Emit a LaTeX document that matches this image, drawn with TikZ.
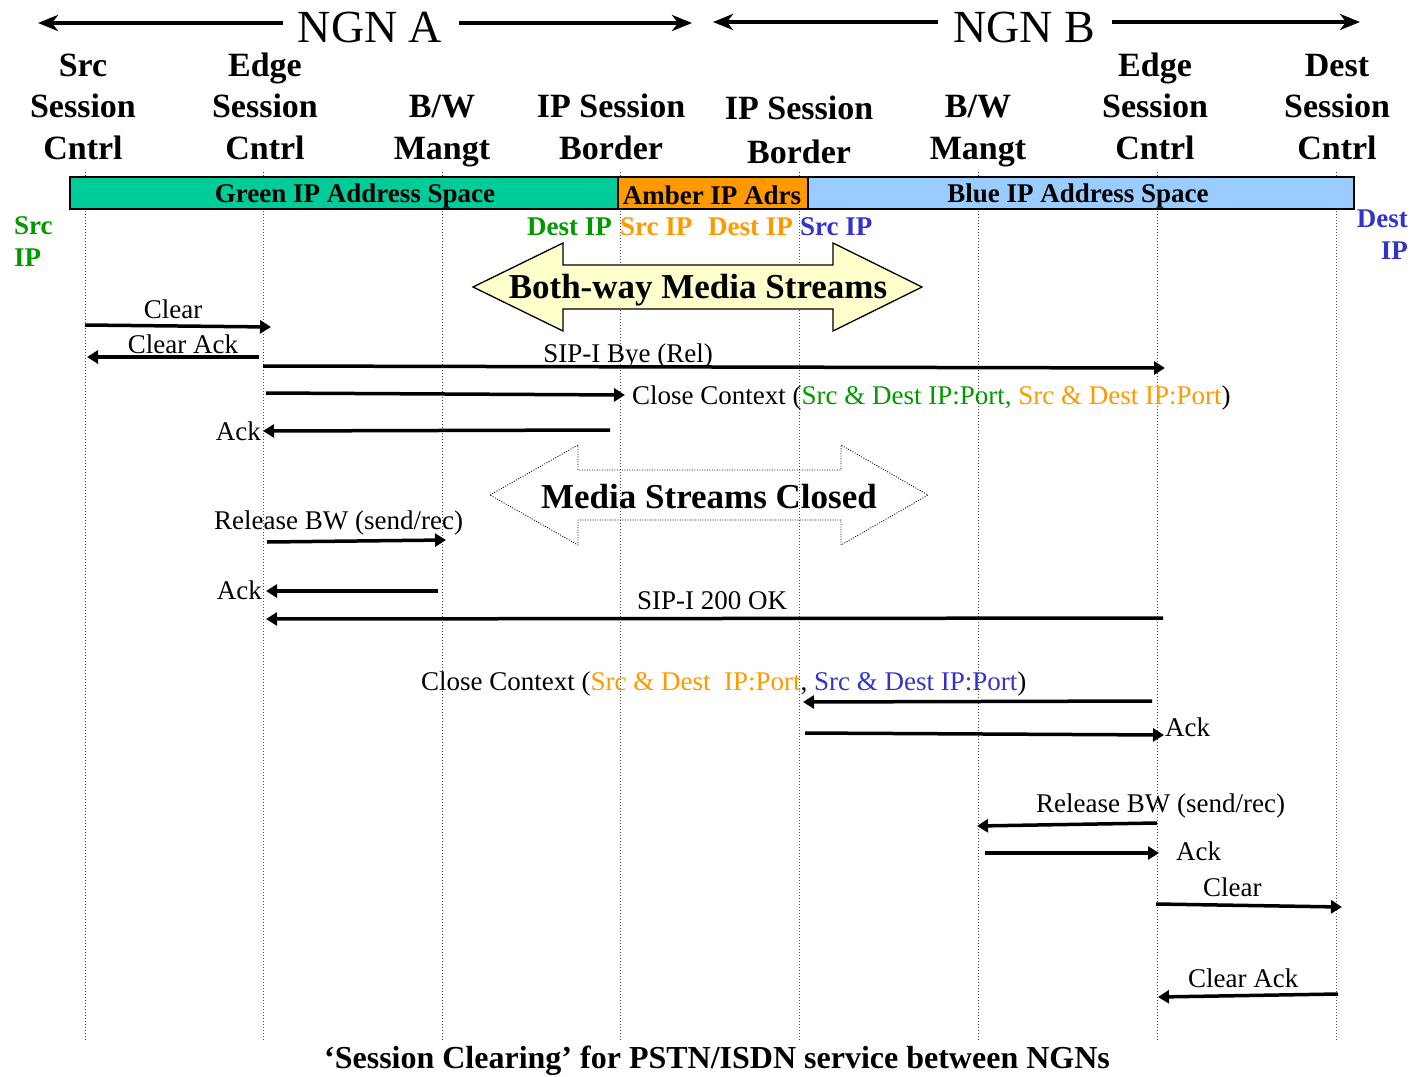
\documentclass[tikz,border=0pt]{standalone}
\usepackage{fontspec}
\setmainfont{Liberation Serif}
\usetikzlibrary{arrows.meta}

\definecolor{greenfill}{HTML}{00CC99}
\definecolor{amberfill}{HTML}{FF9900}
\definecolor{bluefill}{HTML}{99CCFF}
\definecolor{greentxt}{HTML}{009900}
\definecolor{ambertxt}{HTML}{FF9900}
\definecolor{bluetxt}{HTML}{3333CC}
\definecolor{streamfill}{HTML}{FFFFCC}

\tikzset{
  hdr/.style={font=\fontsize{34}{41.5}\selectfont\bfseries, align=center, inner sep=0pt, anchor=base},
  ngn/.style={font=\fontsize{46}{50}\selectfont, inner sep=0pt, anchor=base},
  ngnarrow/.style={line width=4pt, -{Stealth[length=20pt,width=16pt,inset=6pt]}},
  band/.style={draw=black, line width=1.3pt},
  bandlbl/.style={font=\fontsize{27}{30}\selectfont\bfseries, inner sep=0pt, anchor=base},
  iplbl/.style={font=\fontsize{27}{32}\selectfont\bfseries, inner sep=0pt, anchor=base},
  lifeline/.style={line width=0.7pt, black!70, dash pattern=on 1.2pt off 1.8pt},
  msg/.style={line width=3.5pt, -{Triangle[length=11pt,width=13pt]}},
  msglbl/.style={font=\fontsize{27}{30}\selectfont, inner sep=0pt, anchor=base},
  bigtxt/.style={font=\fontsize{35}{40}\selectfont\bfseries, inner sep=0pt},
  titletxt/.style={font=\fontsize{32}{36}\selectfont\bfseries, inner sep=0pt, anchor=base},
}

\begin{document}
\begin{tikzpicture}[x=1pt,y=-1pt]
\useasboundingbox (0,0) rectangle (1413,1076);

% lifelines
\foreach \n/\x in {srcA/85, edgeA/263, bwA/442, ipA/620, ipB/799, bwB/978, edgeB/1157, dstB/1336}{
  \coordinate (\n top) at (\x,172);
  \coordinate (\n bot) at (\x,1040);
  \draw[lifeline] (\n top) -- (\n bot);
}

% network banners
\node[ngn] (ngnA) at (370,42) {NGN A};
\coordinate (ngnAl) at (38,23);
\coordinate (ngnAr) at (692,23);
\draw[ngnarrow] (ngnA.west |- ngnAl) ++(-15,0) -- (ngnAl);
\draw[ngnarrow] (ngnA.east |- ngnAr) ++(17,0) -- (ngnAr);
\node[ngn] (ngnB) at (1024,42) {NGN B};
\coordinate (ngnBl) at (713,22);
\coordinate (ngnBr) at (1360,22);
\draw[ngnarrow] (ngnB.west |- ngnBl) ++(-15,0) -- (ngnBl);
\draw[ngnarrow] (ngnB.east |- ngnBr) ++(17,0) -- (ngnBr);

% column headers (anchored on the baseline of the last line)
\node[hdr] (hSrc) at (83,159) {Src\\Session\\Cntrl};
\node[hdr] (hEdgeA) at (265,159) {Edge\\Session\\Cntrl};
\node[hdr] (hBwA) at (442,159) {B/W\\Mangt};
\node[hdr] (hIpA) at (611,159) {IP Session\\Border};
\node[hdr, font=\fontsize{34}{44}\selectfont\bfseries] (hIpB) at (799,163) {IP Session\\Border};
\node[hdr] (hBwB) at (978,159) {B/W\\Mangt};
\node[hdr] (hEdgeB) at (1155,159) {Edge\\Session\\Cntrl};
\node[hdr] (hDst) at (1337,159) {Dest\\Session\\Cntrl};

% address space bands
\draw[band, fill=greenfill] (70,177) rectangle (618,209);
\draw[band, fill=amberfill] (618,177) rectangle (808,209);
\draw[band, fill=bluefill] (808,177) rectangle (1354,209);
\node[bandlbl] (gband) at (355,202) {Green IP Address Space};
\node[bandlbl] (aband) at (712,204) {Amber IP Adrs};
\node[bandlbl] (bband) at (1078,202) {Blue IP Address Space};

% address labels
\node[iplbl, text=greentxt, align=left, anchor=base west] (srcip) at (14,266) {Src\\IP};
\node[iplbl, text=greentxt, anchor=base east] (gdest) at (612,235) {Dest IP};
\node[iplbl, text=ambertxt, anchor=base west] (asrc) at (620,235) {Src IP};
\node[iplbl, text=ambertxt, anchor=base west] (adest) at (708,235) {Dest IP};
\node[iplbl, text=bluetxt, anchor=base west] (bsrc) at (800,235) {Src IP};
\node[iplbl, text=bluetxt, align=right, anchor=base east] (dstip) at (1408,259) {Dest\\IP};

% media stream arrows
\draw[line width=1.3pt, fill=streamfill] (473,287) -- (563,243) -- (563,265) -- (833,265) -- (833,243)
  -- (922,287) -- (833,331) -- (833,309) -- (563,309) -- (563,331) -- cycle;
\node[bigtxt] (both) at (698,290) {Both-way Media Streams};
\draw[line width=0.8pt, dash pattern=on 1pt off 1.5pt] (490,495) -- (578,445) -- (578,470) -- (841,470) -- (841,445)
  -- (928,495) -- (841,545) -- (841,520) -- (578,520) -- (578,545) -- cycle;
\node[bigtxt] (closed) at (709,497) {Media Streams Closed};

% message end points
\coordinate (m1a) at (85,325);   \coordinate (m1b) at (271,327);
\coordinate (m2a) at (259,357);  \coordinate (m2b) at (87,357);
\coordinate (m3a) at (263,366);  \coordinate (m3b) at (1165,368);
\coordinate (m4a) at (266,393);  \coordinate (m4b) at (625,395);
\coordinate (m5a) at (610,430);  \coordinate (m5b) at (263,431);
\coordinate (m6a) at (267,542);  \coordinate (m6b) at (446,540);
\coordinate (m7a) at (438,591);  \coordinate (m7b) at (266,591);
\coordinate (m8a) at (1163,618); \coordinate (m8b) at (266,619);
\coordinate (m9a) at (1152,701); \coordinate (m9b) at (803,702);
\coordinate (m10a) at (805,733); \coordinate (m10b) at (1164,735);
\coordinate (m11a) at (1157,823);\coordinate (m11b) at (977,826);
\coordinate (m12a) at (985,853); \coordinate (m12b) at (1159,853);
\coordinate (m13a) at (1156,904);\coordinate (m13b) at (1342,907);
\coordinate (m14a) at (1338,994);\coordinate (m14b) at (1158,997);

\foreach \i in {1,...,14}{ \draw[msg] (m\i a) -- (m\i b); }

% message labels
\node[msglbl] (l1) at (173,318) {Clear};
\node[msglbl] (l2) at (183,353) {Clear Ack};
\node[msglbl] (l3) at (628,362) {SIP-I Bye (Rel)};
\node[msglbl, anchor=base west] (l4) at (632,404) {Close Context (\textcolor{greentxt}{Src \& Dest IP:Port,} \textcolor{ambertxt}{Src \& Dest IP:Port})};
\node[msglbl, anchor=base east] (l5) at (261,440) {Ack};
\node[msglbl, anchor=base west] (l6) at (214,529) {Release BW (send/rec)};
\node[msglbl, anchor=base east] (l7) at (262,599) {Ack};
\node[msglbl, anchor=base west] (l8) at (637,609) {SIP-I 200 OK};
\node[msglbl, anchor=base west] (l9) at (421,690) {Close Context (\textcolor{ambertxt}{Src \& Dest~ IP:Port}, \textcolor{bluetxt}{Src \& Dest IP:Port})};
\node[msglbl, anchor=base west] (l10) at (1165,736) {Ack};
\node[msglbl, anchor=base west] (l11) at (1036,812) {Release BW (send/rec)};
\node[msglbl, anchor=base west] (l12) at (1176,860) {Ack};
\node[msglbl, anchor=base west] (l13) at (1203,896) {Clear};
\node[msglbl, anchor=base west] (l14) at (1188,987) {Clear Ack};

% caption
\node[titletxt] (caption) at (717,1068) {‘Session Clearing’ for PSTN/ISDN service between NGNs};
\end{tikzpicture}
\end{document}
